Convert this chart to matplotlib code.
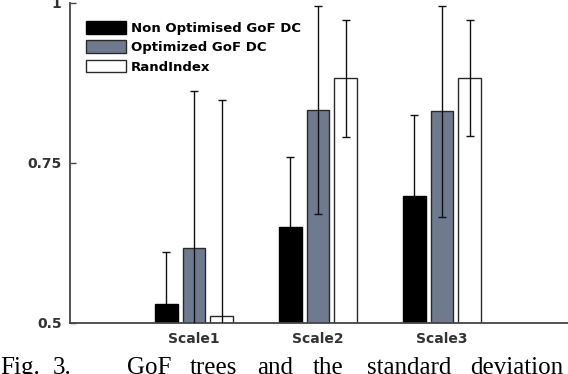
import numpy as np
import matplotlib
matplotlib.use('Agg')
import matplotlib.pyplot as plt

# data
groups = ['Scale1', 'Scale2', 'Scale3']
series = ['Non Optimised GoF DC', 'Optimized GoF DC', 'RandIndex']
non_opt = [0.530, 0.649, 0.698]
non_opt_err = [0.081, 0.110, 0.127]
opt = [0.617, 0.833, 0.831]
opt_err = [0.246, 0.163, 0.165]
rand_idx = [0.511, 0.882, 0.883]
rand_err = [0.337, 0.091, 0.091]

colors = ['#000000', '#6e7a8e', '#ffffff']
edges = ['#000000', '#2a2a2a', '#2a2a2a']

fig = plt.figure(figsize=(5.68, 3.74), dpi=100)
ax = fig.add_axes([70/568, 51.3/374, 498/568, 319.7/374])

x = np.arange(1, len(groups) + 1)
w = 0.18
off = 0.222
vals = [non_opt, opt, rand_idx]
errs = [non_opt_err, opt_err, rand_err]
for i in range(3):
    ax.bar(x + (i - 1) * off, vals[i], w, bottom=0, color=colors[i],
           edgecolor=edges[i], linewidth=1.0, label=series[i], zorder=2)
# black bars hide the lower half of their whiskers
ezo = [1, 3, 3]
for i in range(3):
    ax.errorbar(x + (i - 1) * off, vals[i], yerr=errs[i], fmt='none',
                ecolor='#111111', elinewidth=1.0, capsize=2.8, capthick=1.0,
                zorder=ezo[i])

ax.set_xlim(0, 498/124)
ax.set_ylim(0.5, 1.0)
ax.set_yticks([0.5, 0.75, 1])
ax.set_yticklabels(['0.5', '0.75', '1'])
ax.set_xticks(x)
ax.set_xticklabels(groups)

for s in ['top', 'right']:
    ax.spines[s].set_visible(False)
for s in ['left', 'bottom']:
    ax.spines[s].set_color('#444444')
    ax.spines[s].set_linewidth(1.3)
ax.tick_params(axis='y', direction='in', length=4, width=1, color='#444444', pad=6)
ax.tick_params(axis='x', length=0, pad=7)
for lab in ax.get_xticklabels() + ax.get_yticklabels():
    lab.set_fontweight('bold')
    lab.set_fontsize(10)
    lab.set_color('#333333')

leg = ax.legend(loc='upper left', bbox_to_anchor=(16/498, 1 - 18/319.7), frameon=False,
                borderpad=0, borderaxespad=0, handlelength=3.0, handleheight=1.1,
                handletextpad=0.4, labelspacing=0.42, prop={'weight': 'bold', 'size': 9.5})

# caption cut off at the bottom of the image
words = ['Fig.', '3.', 'GoF', 'trees', 'and', 'the', 'standard', 'deviation']
wx = [0, 53, 127, 190, 257, 313, 367, 470]
for wd, px in zip(words, wx):
    fig.text(px/568, 1 - 357/374, wd, family='Liberation Serif', fontsize=18,
             va='top', ha='left')

fig.savefig('out.png', dpi=100)
